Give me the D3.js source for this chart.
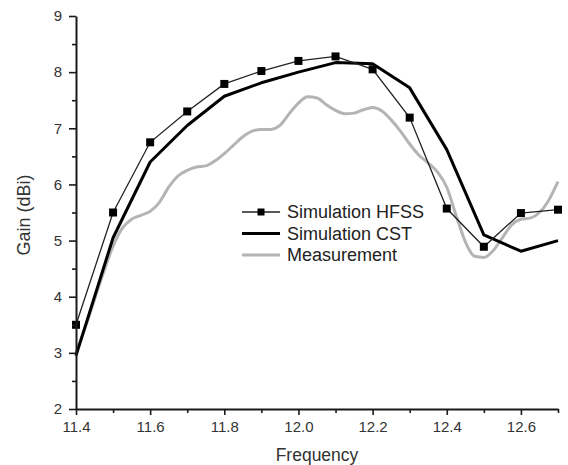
<!DOCTYPE html>
<html>
<head>
<meta charset="utf-8">
<script src="https://cdn.jsdelivr.net/npm/d3@7"></script>
<style>
  html, body { margin: 0; padding: 0; background: #fff; }
  svg { display: block; font-family: "Liberation Sans", Arial, sans-serif; }
</style>
</head>
<body>
<svg id="chart" width="568" height="465"></svg>
<script>
// Gain versus frequency: two simulations and a measurement
const hfssFreq = [11.4, 11.5, 11.6, 11.7, 11.8, 11.9, 12.0, 12.1, 12.2, 12.3, 12.4, 12.5, 12.6, 12.7];
const hfssGain = [3.5, 5.5, 6.75, 7.3, 7.79, 8.02, 8.2, 8.28, 8.05, 7.19, 5.57, 4.89, 5.49, 5.55];

const cstFreq = [11.4, 11.5, 11.6, 11.7, 11.8, 11.9, 12.0, 12.1, 12.2, 12.3, 12.4, 12.5, 12.6, 12.7];
const cstGain = [2.95, 5.05, 6.4, 7.05, 7.57, 7.81, 8.0, 8.17, 8.15, 7.72, 6.62, 5.1, 4.81, 5.0];

const measFreq = [11.4, 11.425, 11.45, 11.475, 11.5, 11.525, 11.55, 11.575, 11.6, 11.625,
                  11.65, 11.675, 11.7, 11.725, 11.75, 11.775, 11.8, 11.825, 11.85, 11.875,
                  11.9, 11.925, 11.95, 11.975, 12.0, 12.025, 12.05, 12.075, 12.1, 12.125,
                  12.15, 12.175, 12.2, 12.225, 12.25, 12.275, 12.3, 12.325, 12.35, 12.375,
                  12.4, 12.425, 12.45, 12.475, 12.5, 12.525, 12.55, 12.575, 12.6, 12.625,
                  12.65, 12.675, 12.7];
const measGain = [3.0, 3.45, 3.95, 4.45, 4.9, 5.22, 5.38, 5.45, 5.52, 5.68,
                  5.95, 6.15, 6.25, 6.31, 6.33, 6.42, 6.55, 6.7, 6.85, 6.95,
                  6.98, 6.98, 7.05, 7.26, 7.45, 7.56, 7.54, 7.42, 7.32, 7.26,
                  7.27, 7.33, 7.37, 7.31, 7.15, 6.95, 6.72, 6.52, 6.38, 6.22,
                  5.95, 5.45, 4.98, 4.72, 4.7, 4.82, 5.05, 5.28, 5.38, 5.4,
                  5.5, 5.72, 6.05];

const xMajorTicks = [11.4, 11.6, 11.8, 12.0, 12.2, 12.4, 12.6];
const xMinorTicks = [11.5, 11.7, 11.9, 12.1, 12.3, 12.5, 12.7];
const yMajorTicks = [2, 3, 4, 5, 6, 7, 8, 9];
const yMinorTicks = [2.5, 3.5, 4.5, 5.5, 6.5, 7.5, 8.5];

const seriesNames = ["Simulation HFSS", "Simulation CST", "Measurement"];

const svg = d3.select("#chart");
const margin = { left: 76, right: 10, top: 16, bottom: 56 };
const W = 568, H = 465;

const x = d3.scaleLinear().domain([11.4, 12.7]).range([margin.left, W - margin.right]);
const y = d3.scaleLinear().domain([2, 9]).range([H - margin.bottom, margin.top]);

const axisColor = "#1a1a1a";
const textColor = "#333";

// series
const line = (fx, gy, curve) => d3.line()
  .x((d, i) => x(fx[i]))
  .y(d => y(d))
  .curve(curve)(gy);

svg.append("path")
  .attr("d", line(measFreq, measGain, d3.curveMonotoneX))
  .attr("fill", "none").attr("stroke", "#b4b4b4").attr("stroke-width", 3)
  .attr("stroke-linejoin", "round");

svg.append("path")
  .attr("d", line(cstFreq, cstGain, d3.curveLinear))
  .attr("fill", "none").attr("stroke", "#000").attr("stroke-width", 3)
  .attr("stroke-linejoin", "round");

svg.append("path")
  .attr("d", line(hfssFreq, hfssGain, d3.curveLinear))
  .attr("fill", "none").attr("stroke", "#222").attr("stroke-width", 1.3);

const sq = 8;
svg.append("g").selectAll("rect")
  .data(hfssGain)
  .join("rect")
  .attr("x", (d, i) => x(hfssFreq[i]) - sq / 2)
  .attr("y", d => y(d) - sq / 2)
  .attr("width", sq).attr("height", sq)
  .attr("fill", "#000");

// axes
svg.append("g")
  .attr("transform", `translate(0,${H - margin.bottom})`)
  .call(d3.axisBottom(x).tickValues(xMajorTicks).tickFormat(d3.format(".1f"))
    .tickSize(6).tickSizeOuter(0).tickPadding(6));
svg.append("g")
  .attr("transform", `translate(0,${H - margin.bottom})`)
  .call(d3.axisBottom(x).tickValues(xMinorTicks).tickFormat("").tickSize(4).tickSizeOuter(0))
  .call(g => g.select(".domain").remove());

svg.append("g")
  .attr("transform", `translate(${margin.left},0)`)
  .call(d3.axisLeft(y).tickValues(yMajorTicks).tickFormat(d3.format("d"))
    .tickSize(7).tickSizeOuter(0).tickPadding(7));
svg.append("g")
  .attr("transform", `translate(${margin.left},0)`)
  .call(d3.axisLeft(y).tickValues(yMinorTicks).tickFormat("").tickSize(4).tickSizeOuter(0))
  .call(g => g.select(".domain").remove());

svg.selectAll(".domain").attr("stroke", axisColor).attr("stroke-width", 2);
svg.selectAll(".tick line").attr("stroke", axisColor).attr("stroke-width", 1.6);
svg.selectAll(".tick text").attr("fill", textColor).attr("font-size", 15)
  .attr("font-family", "'Liberation Sans', Arial, sans-serif");

// axis titles
svg.append("text")
  .attr("x", (margin.left + W - margin.right) / 2)
  .attr("y", 461)
  .attr("text-anchor", "middle")
  .attr("font-size", 17.5).attr("fill", textColor)
  .text("Frequency");

svg.append("text")
  .attr("transform", `translate(30,215) rotate(-90)`)
  .attr("text-anchor", "middle")
  .attr("font-size", 18).attr("fill", textColor)
  .text("Gain (dBi)");

// legend
const legend = svg.append("g").attr("transform", "translate(242,212)");
const rowH = 21.5;
const styles = [
  { stroke: "#222", width: 1.3, marker: true },
  { stroke: "#000", width: 3, marker: false },
  { stroke: "#b4b4b4", width: 3, marker: false }
];
seriesNames.forEach((name, i) => {
  const g = legend.append("g").attr("transform", `translate(0,${i * rowH})`);
  g.append("line").attr("x1", 0).attr("x2", 38).attr("y1", 0).attr("y2", 0)
    .attr("stroke", styles[i].stroke).attr("stroke-width", styles[i].width);
  if (styles[i].marker) {
    g.append("rect").attr("x", 19 - 3.5).attr("y", -3.5).attr("width", 7).attr("height", 7)
      .attr("fill", "#000");
  }
  g.append("text").attr("x", 45).attr("y", 0).attr("dy", "0.35em")
    .attr("font-size", 18).attr("fill", "#222")
    .text(name);
});
</script>
</body>
</html>
